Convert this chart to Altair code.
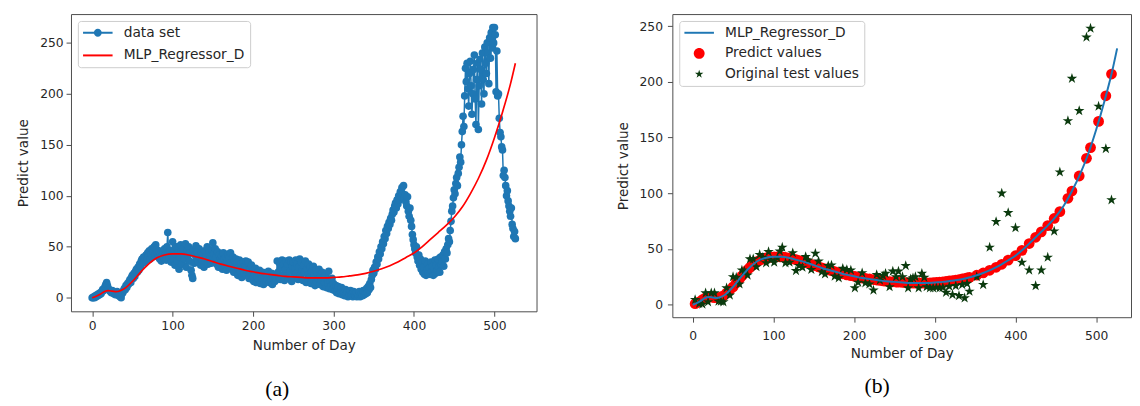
import altair as alt
import pandas as pd

# ---------------- data ----------------
# panel (a): daily data set, day 0 .. 526
data_set_values = [
    0, 0, 1, 0, 2, 1, 3, 2, 4, 3,
    5, 4, 6, 8, 7, 9, 11, 13, 15, 12,
    9, 8, 7, 6, 5, 7, 6, 4, 5, 3,
    4, 6, 5, 2, 3, 1, 0, 4, 5, 7,
    9, 8, 12, 10, 14, 13, 16, 18, 15, 20,
    22, 19, 24, 21, 26, 28, 25, 30, 27, 33,
    31, 36, 38, 34, 40, 35, 39, 42, 37, 44,
    41, 46, 38, 43, 48, 40, 45, 50, 42, 52,
    47, 44, 40, 46, 38, 43, 36, 41, 45, 39,
    48, 42, 37, 50, 64, 44, 40, 46, 35, 41,
    55, 38, 47, 32, 43, 50, 36, 44, 28, 40,
    52, 45, 33, 48, 41, 38, 53, 30, 46, 42,
    50, 36, 44, 27, 22, 19, 47, 34, 42, 51,
    38, 45, 35, 48, 40, 32, 44, 37, 42, 30,
    46, 35, 40, 50, 33, 44, 38, 41, 34, 47,
    54, 43, 36, 48, 40, 33, 45, 30, 42, 37,
    35, 41, 28, 44, 38, 32, 40, 27, 36, 43,
    39, 30, 44, 34, 28, 40, 25, 36, 31, 38,
    34, 22, 30, 37, 26, 33, 20, 29, 35, 24,
    31, 36, 22, 27, 35, 19, 28, 24, 32, 18,
    26, 16, 23, 29, 15, 21, 25, 18, 27, 14,
    22, 19, 25, 13, 20, 24, 16, 22, 18, 26,
    15, 21, 17, 24, 13, 19, 23, 16, 20, 18,
    36, 25, 20, 34, 18, 30, 37, 22, 33, 17,
    28, 36, 21, 33, 19, 37, 26, 35, 16, 31,
    35, 20, 29, 37, 24, 33, 18, 30, 38, 22,
    35, 27, 17, 32, 25, 36, 15, 28, 22, 33,
    20, 30, 14, 26, 18, 31, 22, 12, 27, 16,
    24, 19, 28, 13, 21, 17, 25, 11, 20, 15,
    22, 10, 18, 14, 26, 9, 16, 12, 19, 8,
    14, 10, 7, 12, 5, 9, 11, 4, 8, 6,
    10, 3, 7, 5, 2, 8, 4, 6, 1, 5,
    3, 7, 2, 4, 1, 6, 3, 2, 5, 1,
    4, 2, 6, 1, 3, 5, 2, 7, 3, 6,
    4, 9, 5, 11, 8, 14, 10, 18, 22, 27,
    24, 30, 28, 35, 33, 40, 38, 45, 43, 50,
    48, 55, 53, 60, 58, 66, 63, 70, 68, 74,
    72, 78, 76, 82, 86, 84, 90, 93, 88, 96,
    92, 100, 96, 104, 99, 108, 102, 110, 97, 101,
    94, 90, 99, 85, 80, 88, 76, 70, 62, 57,
    52, 48, 44, 50, 40, 36, 42, 32, 38, 28,
    34, 25, 30, 23, 36, 22, 27, 33, 24, 30,
    23, 35, 26, 31, 22, 28, 37, 24, 32, 27,
    38, 30, 25, 40, 33, 36, 42, 31, 45, 38,
    48, 44, 52, 58, 55, 66, 75, 85, 90, 98,
    106, 102, 112, 118, 110, 122, 128, 138, 133, 150,
    163, 178, 168, 198, 225, 212, 230, 205, 188, 220,
    232, 208, 180, 200, 224, 238, 195, 170, 214, 230,
    165, 208, 234, 224, 190, 240, 214, 200, 246, 230,
    220, 250, 240, 210, 255, 235, 260, 245, 265, 250,
    265, 258, 202, 242, 198, 200, 176, 162, 158, 148,
    145, 120, 125, 118, 110, 100, 105, 95, 90, 85,
    80, 88, 72, 68, 60, 65, 58,
]

# MLP_Regressor_D fitted curve (both panels)
curve_days = [0, 5, 10, 15, 20, 25, 30, 35, 40, 50, 60, 70, 80, 90, 100, 110,
              120, 130, 140, 150, 160, 170, 180, 190, 200, 210, 220, 230, 240,
              250, 260, 270, 280, 290, 300, 310, 320, 330, 340, 350, 360, 370,
              380, 390, 400, 410, 420, 430, 440, 450, 460, 470, 480, 490, 500,
              510, 520, 526]
curve_values = [0, 1.5, 3.5, 6, 7, 6.5, 6, 7, 9, 16, 25, 33, 39, 42, 43, 43,
                42, 40, 38, 35.5, 33, 31, 29, 27, 25.5, 24, 23, 22, 21,
                20.5, 20, 19.5, 19.5, 19.5, 20, 20.5, 21.5, 22.5, 24, 26, 28.5, 31.5,
                35, 39.5, 44, 50, 57, 64, 71, 79, 89, 102, 117, 135, 157,
                182, 210, 230]

# panel (b): test days, original test values and predicted values
test_days = [3, 8, 12, 16, 19, 23, 27, 32, 35, 38,
             42, 46, 50, 54, 58, 61, 64, 68, 71, 75,
             79, 83, 87, 91, 94, 97, 101, 105, 108, 111,
             115, 120, 124, 128, 132, 136, 140, 143, 147, 152,
             156, 160, 164, 168, 172, 176, 181, 186, 191, 196,
             201, 205, 210, 214, 219, 224, 228, 232, 236, 239,
             244, 248, 252, 255, 260, 264, 267, 270, 273, 276,
             280, 284, 287, 290, 294, 298, 302, 306, 310, 314,
             318, 322, 326, 330, 334, 337, 340, 343, 352, 360,
             368, 376, 383, 391, 400, 408, 417, 425, 432, 440,
             448, 455, 465, 470, 479, 488, 493, 503, 512, 519]
test_original = [4.5, 1, 0.5, 10.5, 2.5, 10.5, 10.5, 3, 3, 2.5,
                 15, 8.5, 25, 24.5, 18.5, 31, 30, 26.5, 41, 41,
                 34, 45, 42.5, 37.5, 47.5, 40, 38, 42, 48, 51.5,
                 37.5, 38, 46.5, 30.5, 35, 33.5, 43, 40, 31.5, 46,
                 39, 29.5, 27.5, 35, 35.5, 25.5, 24, 32.5, 31.5, 31,
                 15, 20, 28.5, 19.5, 18.5, 13, 27, 22, 26, 28,
                 16, 30, 25, 30, 25, 35, 15, 23, 24, 25,
                 15, 28, 24.5, 16, 15, 15, 15.5, 15, 15.5, 11,
                 16.5, 9, 17, 8, 18, 6, 19, 12, 25, 18,
                 51.5, 74.5, 100, 82.5, 69, 38, 31, 17, 31, 42.5,
                 66, 119, 165, 203, 174, 240, 248, 178, 140, 94]
test_predict = [0.9, 2.5, 4.5, 6.2, 6.8, 6.8, 6.3, 6.2, 7, 8,
                10.4, 13.2, 16, 19.6, 23.2, 25.8, 28.2, 31.4, 33.5, 36,
                38.4, 39.9, 41, 42.1, 42.4, 42.8, 43, 43, 43, 43,
                42.5, 42, 41.2, 40.5, 39.6, 38.8, 38, 37.3, 36.2, 35,
                34, 33, 32.2, 31.4, 30.6, 29.8, 28.8, 27.8, 26.8, 26.1,
                25.4, 24.8, 24, 23.6, 23.1, 22.6, 22.2, 21.8, 21.4, 21.1,
                20.8, 20.6, 20.4, 20.2, 20, 19.8, 19.7, 19.5, 19.5, 19.5,
                19.5, 19.5, 19.5, 19.5, 19.7, 19.9, 20.1, 20.3, 20.5, 20.9,
                21.3, 21.7, 22.1, 22.5, 23.1, 23.5, 24, 24.6, 26.5, 28.5,
                30.9, 33.6, 36.3, 40, 44, 48.8, 54.9, 60.5, 65.4, 71,
                77.4, 83.5, 95.5, 102, 115.5, 131.4, 141, 164.5, 187.5, 207]

x_ticks = [0, 100, 200, 300, 400, 500]
y_ticks = [0, 50, 100, 150, 200, 250]
legend_a_names = ["data set", "MLP_Regressor_D"]
legend_b_names = ["MLP_Regressor_D", "Predict values", "Original test values"]

# ---------------- styling ----------------
BLUE = "#1f77b4"
RED = "#ff0000"
STAR = "#0b3a0e"
FONT = "DejaVu Sans"
TXT = "#262626"
FRAME = "#4a4a4a"

STAR_PATH = ("M0,-1L0.2245,-0.309L0.951,-0.309L0.363,0.118L0.588,0.809L0,0.382"
             "L-0.588,0.809L-0.363,0.118L-0.951,-0.309L-0.2245,-0.309Z")
LEG_LINE = "M-1.35,-0.2H4.65V0.2H-1.35Z"
LEG_LINE_DOT = LEG_LINE + " M2.45,0A0.8,0.8 0 1 1 0.85,0A0.8,0.8 0 1 1 2.45,0Z"
LEG_DOT_BIG = "M2.75,0A1.1,1.1 0 1 1 0.55,0A1.1,1.1 0 1 1 2.75,0Z"
LEG_STAR = ("M1.65,-0.9L1.852,-0.278L2.506,-0.278L1.977,0.106L2.179,0.728L1.65,0.344"
            "L1.121,0.728L1.323,0.106L0.794,-0.278L1.448,-0.278Z")


def x_axis(label_pad, title_pad):
    return alt.Axis(values=x_ticks, title="Number of Day", tickSize=5, tickColor=FRAME,
                    tickWidth=1, domain=False, grid=False, labelFont=FONT,
                    labelFontSize=12.5, labelColor=TXT, labelPadding=label_pad,
                    labelFlush=False, titleFont=FONT, titleFontSize=13.8,
                    titleFontWeight="normal", titleColor=TXT, titlePadding=title_pad)


def y_axis(label_pad, title_pad):
    return alt.Axis(values=y_ticks, title="Predict value", tickSize=5, tickColor=FRAME,
                    tickWidth=1, domain=False, grid=False, labelFont=FONT,
                    labelFontSize=12.5, labelColor=TXT, labelPadding=label_pad,
                    titleFont=FONT, titleFontSize=13.8, titleFontWeight="normal",
                    titleColor=TXT, titlePadding=title_pad)


def make_legend(row_pad):
    return alt.Legend(title=None, orient="top-left", offset=7, padding=5,
                      fillColor="rgba(255,255,255,0.85)", strokeColor="#cccccc",
                      cornerRadius=3, labelFont=FONT, labelFontSize=14,
                      labelColor=TXT, labelOffset=27.5, labelLimit=400,
                      symbolSize=100, symbolStrokeWidth=0, symbolOpacity=1,
                      rowPadding=row_pad)


# ---------------- panel (a) ----------------
df_a = pd.DataFrame({"day": list(range(len(data_set_values))), "value": data_set_values})
df_curve = pd.DataFrame({"day": curve_days, "value": curve_values})

Xa = alt.X("day:Q", scale=alt.Scale(domain=[-26.3, 552.3], nice=False, zero=False),
           axis=x_axis(3, 7))
Ya = alt.Y("value:Q", scale=alt.Scale(domain=[-13.25, 278.25], nice=False, zero=False),
           axis=y_axis(3, 9))

line_a = alt.Chart(df_a).mark_line(color=BLUE, strokeWidth=1.5).encode(x=Xa, y=Ya)
pts_a = alt.Chart(df_a).mark_circle(color=BLUE, size=60, opacity=1).encode(x=Xa, y=Ya)
curve_a = alt.Chart(df_curve).mark_line(color=RED, strokeWidth=1.7,
                                        interpolate="monotone").encode(x=Xa, y=Ya)
leg_a_def = make_legend(9)
leg_a = alt.Chart(pd.DataFrame({"series_a": legend_a_names})).mark_point(
    filled=True, opacity=0).encode(
    color=alt.Color("series_a:N", scale=alt.Scale(domain=legend_a_names, range=[BLUE, RED]),
                    legend=leg_a_def),
    shape=alt.Shape("series_a:N", scale=alt.Scale(domain=legend_a_names,
                                                  range=[LEG_LINE_DOT, LEG_LINE]),
                    legend=leg_a_def),
)

panel_a = alt.layer(line_a, pts_a, curve_a, leg_a).properties(
    width=473, height=302,
    title=alt.TitleParams("(a)", orient="bottom", anchor="middle", font="Liberation Serif",
                          fontSize=22, fontWeight="normal", color="black", offset=28,
                          dx=-27),
)

# ---------------- panel (b) ----------------
df_test = pd.DataFrame({"day": test_days, "orig": test_original, "pred": test_predict})

xb_scale = alt.Scale(domain=[-25.2, 543.2], nice=False, zero=False)
yb_scale = alt.Scale(domain=[-11.2, 260.8], nice=False, zero=False)
Xb = alt.X("day:Q", scale=xb_scale, axis=x_axis(8, 4))

pred_b = alt.Chart(df_test).mark_circle(color=RED, size=120, opacity=1).encode(
    x=Xb, y=alt.Y("pred:Q", scale=yb_scale, axis=y_axis(5, 9)))
star_b = alt.Chart(df_test).mark_point(shape=STAR_PATH, filled=True, size=125,
                                       color=STAR, opacity=1).encode(
    x=Xb, y=alt.Y("orig:Q", scale=yb_scale, axis=y_axis(5, 9)))
curve_b = alt.Chart(df_curve).mark_line(color=BLUE, strokeWidth=2,
                                        interpolate="monotone").encode(
    x=Xb, y=alt.Y("value:Q", scale=yb_scale, axis=y_axis(5, 9)))
leg_b_def = make_legend(7)
leg_b = alt.Chart(pd.DataFrame({"series_b": legend_b_names})).mark_point(
    filled=True, opacity=0).encode(
    color=alt.Color("series_b:N", scale=alt.Scale(domain=legend_b_names,
                                                  range=[BLUE, RED, STAR]),
                    legend=leg_b_def),
    shape=alt.Shape("series_b:N", scale=alt.Scale(domain=legend_b_names,
                                                  range=[LEG_LINE, LEG_DOT_BIG, LEG_STAR]),
                    legend=leg_b_def),
)

panel_b = alt.layer(pred_b, star_b, curve_b, leg_b).properties(
    width=466, height=308,
    title=alt.TitleParams("(b)", orient="bottom", anchor="middle", font="Liberation Serif",
                          fontSize=22, fontWeight="normal", color="black", offset=17,
                          dx=-25),
)

chart = alt.hconcat(panel_a, panel_b, spacing=79).resolve_scale(
    x="independent", y="independent", color="independent", shape="independent"
).resolve_legend(color="independent", shape="independent").properties(
    padding={"left": 8, "top": 2, "right": 0, "bottom": 0}, background="white"
).configure_view(stroke=FRAME, strokeWidth=1)

chart.save("out.html", embed_options={"renderer": "svg", "actions": False})
